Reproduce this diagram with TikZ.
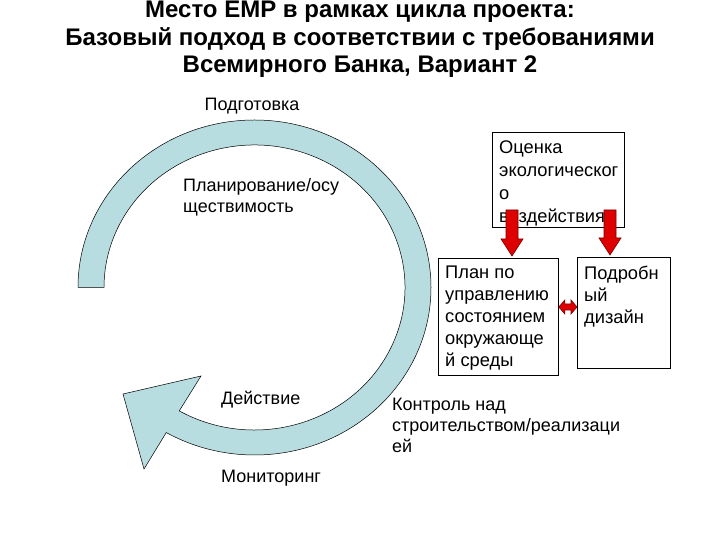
\documentclass[tikz,border=0pt]{standalone}
\usepackage{fontspec}
\setmainfont{Liberation Sans}
\usetikzlibrary{calc}
\definecolor{bandblue}{RGB}{183,221,224}
\definecolor{arrred}{RGB}{222,0,0}
\definecolor{arrdark}{RGB}{120,0,0}
\tikzset{
  lbl/.style={inner sep=0pt, font=\fontsize{18}{21}\selectfont, align=left},
  boxtxt/.style={inner sep=0pt, font=\fontsize{18.3}{22}\selectfont, align=left, anchor=north west},
  frame/.style={draw=black, line width=0.8pt, fill=white},
  band/.style={fill=bandblue, draw=black, line width=0.5pt},
  redarrow/.style={fill=arrred, draw=arrdark, line width=0.6pt, line join=miter}
}
\begin{document}
\begin{tikzpicture}[x=1pt,y=1pt]
\useasboundingbox (0,0) rectangle (720,540);
\fill[white] (0,0) rectangle (720,540);

% title
\node (title) [anchor=north, inner sep=0pt, align=center,
  font=\fontsize{24}{27.5}\selectfont\bfseries] at (360,539)
  {Место EMP в рамках цикла проекта:\\Базовый подход в соответствии с требованиями\\Всемирного Банка, Вариант 2};

% cycle band with arrow head
\draw[band] (78,252.5) arc[start angle=180, end angle=-120, x radius=176.5, y radius=167.5]
  -- (144,71) -- (123,146) -- (201,164) -- (179.25,129.1)
  arc[start angle=-120, end angle=180, x radius=150.5, y radius=142.5] -- cycle;

% labels around the cycle
\node (prep) [lbl, anchor=base] at (252,429) {Подготовка};
\node (plan) [lbl, anchor=north west] at (183,362) {Планирование/осу\\ществимость};
\node (act) [lbl, anchor=base west] at (221,135) {Действие};
\node (mon) [lbl, anchor=base west] at (221,57) {Мониторинг};
\node (ctrl) [lbl, anchor=north west] at (392,142) {Контроль над\\строительством/реализаци\\ей};

% boxes
\node (ovb) [frame, anchor=north west, minimum width=132pt, minimum height=95pt, inner sep=0pt] at (492,408) {};
\node (ovbt) [boxtxt, font=\fontsize{18.3}{23}\selectfont] at (499,399) {Оценка\\экологическог\\о\\воздействия};

\node (pum) [frame, anchor=north west, minimum width=120pt, minimum height=117pt, inner sep=0pt] at (438,282) {};
\node (pumt) [boxtxt] at (445,274) {План по\\управлению\\состоянием\\окружающе\\й среды};

\node (pd) [frame, anchor=north west, minimum width=93pt, minimum height=111pt, inner sep=0pt] at (577,283) {};
\node (pdt) [boxtxt] at (584,274) {Подробн\\ый\\дизайн};

% red down arrows
\coordinate (s1) at (512,330);
\coordinate (e1) at (s1 |- pum.north);
\draw[redarrow] ($(s1)+(-6,0)$) -- ($(e1)+(-6,19)$) -- ($(e1)+(-11,19)$) -- ($(e1)+(0,2)$)
  -- ($(e1)+(11,19)$) -- ($(e1)+(6,19)$) -- ($(s1)+(6,0)$) -- cycle;

\coordinate (s2) at (610,330);
\coordinate (e2) at (s2 |- pd.north);
\draw[redarrow] ($(s2)+(-6,0)$) -- ($(e2)+(-6,19)$) -- ($(e2)+(-11,19)$) -- ($(e2)+(0,2)$)
  -- ($(e2)+(11,19)$) -- ($(e2)+(6,19)$) -- ($(s2)+(6,0)$) -- cycle;

% double arrow between boxes
\coordinate (d1) at (pum.east |- 0,233);
\coordinate (d2) at (pd.west |- 0,233);
\draw[redarrow] (d1) -- ($(d1)+(6,7)$) -- ($(d1)+(6,3)$) -- ($(d2)+(-6,3)$) -- ($(d2)+(-6,7)$)
  -- (d2) -- ($(d2)+(-6,-7)$) -- ($(d2)+(-6,-3)$) -- ($(d1)+(6,-3)$) -- ($(d1)+(6,-7)$) -- cycle;
\end{tikzpicture}
\end{document}
